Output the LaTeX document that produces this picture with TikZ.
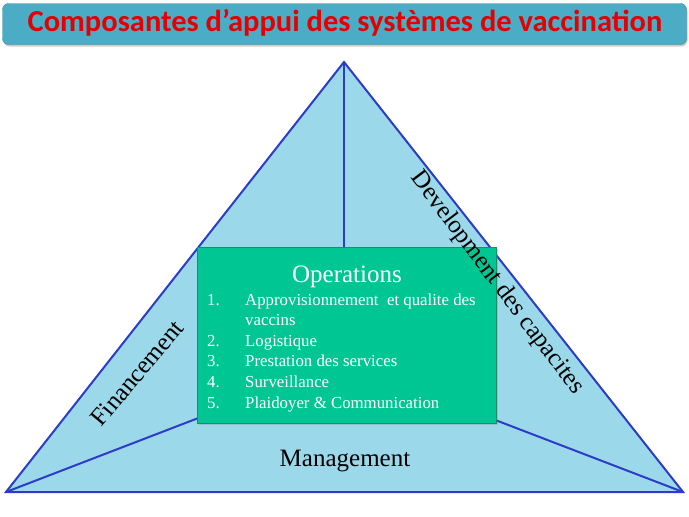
\documentclass[tikz,border=0pt]{standalone}
\usepackage{fontspec}
\setmainfont{Liberation Serif}
\newfontfamily\headfont{Carlito}
\usetikzlibrary{shadows}

\definecolor{triblue}{RGB}{155,216,233}
\definecolor{edgeblue}{RGB}{45,60,200}
\definecolor{opsgreen}{RGB}{0,198,148}
\definecolor{opsborder}{RGB}{30,140,100}
\definecolor{headblue}{RGB}{75,172,198}
\definecolor{headred}{RGB}{228,0,0}

\begin{document}
\begin{tikzpicture}[x=1pt, y=-1pt]
        \tikzstyle{edge}=[draw=edgeblue, line width=2pt]
        \tikzstyle{headbox}=[draw=headblue!80!black, fill=headblue, rounded corners=6pt, minimum width=684pt, minimum height=41pt, drop shadow={shadow xshift=1pt, shadow yshift=-2pt, opacity=0.4}]
        \tikzstyle{opsbox}=[draw=opsborder, fill=opsgreen, line width=1pt, minimum width=299pt, minimum height=176pt, drop shadow={shadow xshift=2pt, shadow yshift=-2pt, opacity=0.3}]
        \tikzstyle{sidelabel}=[font=\fontsize{25}{25}\selectfont, inner sep=0pt]

        \useasboundingbox (0,0) rectangle (689,517);

        \node[headbox] (head) at (344.5,24) {};
        \node[font=\headfont\bfseries\fontsize{30.5}{30.5}\selectfont, text=headred] (headtext) at (345,23) {Composantes d’appui des systèmes de vaccination};

        \coordinate (apex) at (344,62);
        \coordinate (left) at (6,492);
        \coordinate (right) at (683,492);
        \coordinate (ctr) at (344,362);

        \fill[triblue] (apex) -- (right) -- (left) -- cycle;
        \draw[edge] (left) -- (ctr);
        \draw[edge] (right) -- (ctr);
        \draw[edge] (apex) -- (ctr);
        \draw[edge] (apex) -- (right) -- (left) -- cycle;

        \node[opsbox] (ops) at (346.5,335) {};
        \node[font=\fontsize{25}{25}\selectfont, text=white, anchor=base] (opshead) at (347,282) {Operations};
        \node[font=\fontsize{16.8}{20.6}\selectfont, text=white, anchor=base west, inner sep=0pt] (opslist) at (207,305) {%
          \begin{tabular}[t]{@{}p{38pt}@{}l@{}}
          1. & Approvisionnement\ \ et qualite des\\
             & vaccins\\
          2. & Logistique\\
          3. & Prestation des services\\
          4. & Surveillance\\
          5. & Plaidoyer \& Communication
          \end{tabular}};

        \node[sidelabel, rotate=50] (fin) at (137,373) {Financement};
        \node[sidelabel, rotate=-53] (dev) at (497,283) {Development des capacites};
        \node[font=\fontsize{25}{25}\selectfont, anchor=base] (mgmt) at (345,466) {Management};
\end{tikzpicture}
\end{document}
